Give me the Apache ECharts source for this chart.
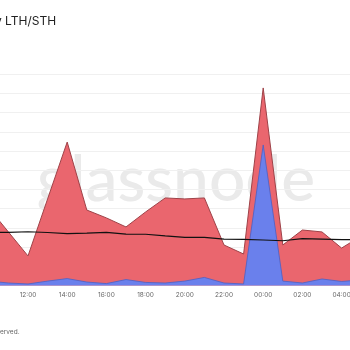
<!DOCTYPE html>
<html>
<head>
<meta charset="utf-8">
<script src="https://cdn.jsdelivr.net/npm/echarts@6/dist/echarts.min.js"></script>
<style>
  html, body { margin: 0; padding: 0; background: #ffffff; }
  #chart { width: 350px; height: 350px; }
</style>
</head>
<body>
<div id="chart"></div>
<script>
// Hourly timeline (the day rolls over at 00:00)
const hours = ['10:00', '11:00', '12:00', '13:00', '14:00', '15:00', '16:00', '17:00', '18:00', '19:00',
               '20:00', '21:00', '22:00', '23:00', '00:00', '01:00', '02:00', '03:00', '04:00', '05:00'];

// Short-term holder volume (red area)
const sthVolume = [40.4, 27.9, 15.4, 45.1, 74.7, 39.3, 35.2, 30.5, 38.3, 45.6,
                   45.1, 45.6, 21.1, 16.4, 102.9, 21.1, 28.9, 27.9, 19.5, 25.8];

// Long-term holder volume (blue area)
const lthVolume = [2.3, 1.3, 0.8, 2.3, 3.6, 1.8, 1.0, 3.1, 1.6, 1.3,
                   2.3, 4.2, 1.3, 0.8, 73.2, 2.3, 1.3, 3.4, 2.1, 2.9];

// Price overlay (black line)
const price = [27.6, 27.7, 28.0, 27.6, 27.0, 27.3, 27.7, 26.8, 26.7, 25.8,
               25.1, 25.1, 24.2, 24.0, 23.7, 23.3, 24.4, 24.2, 23.9, 24.0];

const titleText = 'y LTH/STH';
const footerText = 'erved.';

const chart = echarts.init(document.getElementById('chart'), null, { renderer: 'canvas' });

chart.setOption({
  animation: false,
  backgroundColor: '#ffffff',
  graphic: [
    {
      type: 'text',
      z: -10,
      silent: true,
      style: {
        text: 'glassnode',
        x: 176,
        y: 180,
        align: 'center',
        verticalAlign: 'middle',
        font: '500 64px Lato',
        fill: '#eaeaea'
      }
    },
    {
      type: 'text',
      silent: true,
      style: {
        text: titleText,
        x: -5,
        y: 21,
        align: 'left',
        verticalAlign: 'middle',
        font: '12px Inter',
        fill: '#222222'
      }
    },
    {
      type: 'text',
      silent: true,
      style: {
        text: footerText,
        x: 0,
        y: 332,
        align: 'left',
        verticalAlign: 'middle',
        font: '6.5px Inter',
        fill: '#666666'
      }
    }
  ],
  grid: {
    left: -11.2,
    right: -11.2,
    top: 74.3,
    bottom: 64.5,
    containLabel: false,
    outerBoundsMode: 'none'
  },
  xAxis: {
    type: 'category',
    data: hours,
    boundaryGap: false,
    axisLine: { show: false },
    axisTick: { show: false },
    axisLabel: {
      interval: 1,
      hideOverlap: false,
      margin: 6,
      fontFamily: 'Inter',
      fontSize: 6.5,
      color: '#666666'
    },
    splitLine: { show: false }
  },
  yAxis: {
    type: 'value',
    min: 0,
    max: 110,
    interval: 10,
    axisLine: { show: false },
    axisTick: { show: false },
    axisLabel: { show: false },
    splitLine: { show: true, lineStyle: { color: '#f0f0f0', width: 1 } }
  },
  series: [
    {
      name: 'STH',
      type: 'line',
      data: sthVolume,
      symbol: 'none',
      z: 2,
      lineStyle: { color: '#9e4248', width: 1 },
      areaStyle: { color: '#ea666e', opacity: 1 }
    },
    {
      name: 'LTH',
      type: 'line',
      data: lthVolume,
      symbol: 'none',
      z: 3,
      lineStyle: { color: '#4b5fc4', width: 0.8 },
      areaStyle: { color: '#6a80ec', opacity: 1 }
    },
    {
      name: 'Price',
      type: 'line',
      data: price,
      symbol: 'none',
      z: 4,
      lineStyle: { color: '#111111', width: 1.2 }
    }
  ]
});
</script>
</body>
</html>
